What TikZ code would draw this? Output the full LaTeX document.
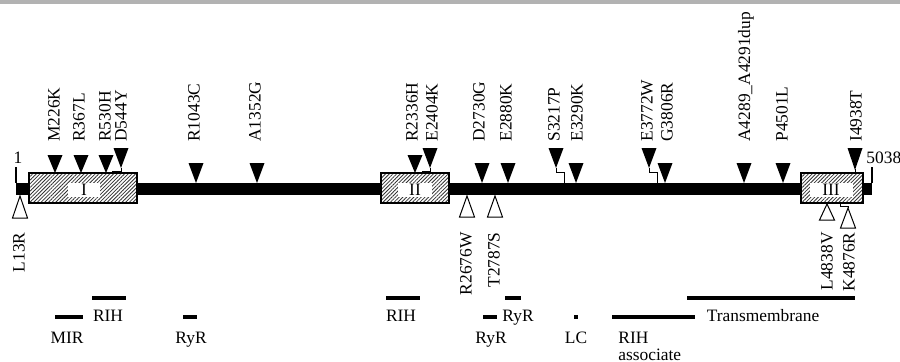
\documentclass[tikz,border=0pt]{standalone}
\usepackage{fontspec}
\setmainfont{Liberation Serif}
\usetikzlibrary{patterns.meta}
\newcommand\ftri[3]{\fill[black] (#1-7.5,#2) -- (#1+7.5,#2) -- (#1,#3) -- cycle;}
\newcommand\otri[3]{\filldraw[fill=white,draw=black,line width=0.5pt] (#1-7.5,#2) -- (#1+7.5,#2) -- (#1,#3) -- cycle;}
\begin{document}
\begin{tikzpicture}[x=0.5pt,y=-0.5pt,
  lbl/.style={font=\fontsize{8.7}{10}\selectfont, inner sep=0pt},
  uplbl/.style={lbl, rotate=90, anchor=west},
  dnlbl/.style={lbl, rotate=90, anchor=east},
  dombox/.style={draw=black, line width=0.8pt, pattern={Lines[angle=45,distance=1.3pt,line width=0.4pt]}, pattern color=black!80},
  conn/.style={draw=black, line width=0.5pt},
  seg/.style={line width=1.6pt},
]
\useasboundingbox (0,0) rectangle (900,361);
\fill[black!30] (0,0) rectangle (900,4);
% main bar
\fill[black] (16,183) rectangle (872,195);
\draw[line width=0.6pt] (16,167) -- (16,183);
\draw[line width=0.6pt] (872,167) -- (872,183);
\node[lbl] (one) at (18,158) {1};
\node[lbl,anchor=west] (end) at (866,158) {5038};
% domain boxes
\fill[white] (29,173) rectangle (137,203);
\path[dombox] (29,173) rectangle (137,203);
\fill[white] (68,183) rectangle (100,197);
\node[lbl] (dI) at (84,190) {I};
\fill[white] (381,173) rectangle (449,203);
\path[dombox] (381,173) rectangle (449,203);
\fill[white] (398,183) rectangle (432,197);
\node[lbl] (dII) at (415,190) {II};
\fill[white] (801,173) rectangle (863,203);
\path[dombox] (801,173) rectangle (863,203);
\fill[white] (810,183) rectangle (853,197);
\node[lbl] (dIII) at (831,190) {III};
% filled triangles
\ftri{55}{155}{173}
\ftri{81}{155}{173}
\ftri{106}{155}{173}
\ftri{121}{148}{168}
\draw[conn] (121,168) -- (121,171) -- (112,171) -- (112,173);
\ftri{196}{163}{183}
\ftri{257}{163}{183}
\ftri{415}{155}{173}
\ftri{430}{148}{168}
\draw[conn] (430,168) -- (430,171) -- (422,171) -- (422,173);
\ftri{482}{163}{183}
\ftri{508}{163}{183}
\ftri{556}{148}{168}
\draw[conn] (556,168) -- (556,172) -- (564,172) -- (564,183);
\ftri{576}{163}{183}
\ftri{649}{148}{168}
\draw[conn] (649,168) -- (649,172) -- (657,172) -- (657,183);
\ftri{665}{163}{183}
\ftri{744}{163}{183}
\ftri{783}{163}{183}
\ftri{855}{148}{170}
\draw[conn] (855,169) -- (855,173);
% open triangles
\otri{20}{218}{196}
\otri{467}{217}{196}
\otri{495}{217}{196}
\otri{827}{220}{204}
\draw[conn] (840,203) -- (840,206) -- (848,206) -- (848,208);
\otri{848}{228}{208}
% upper labels
\node[uplbl] (m1) at (54,142) {M226K};
\node[uplbl] (m2) at (79,142) {R367L};
\node[uplbl] (m3) at (105,142) {R530H};
\node[uplbl] (m4) at (121,142) {D544Y};
\node[uplbl] (m5) at (194,142) {R1043C};
\node[uplbl] (m6) at (255,142) {A1352G};
\node[uplbl] (m7) at (412,142) {R2336H};
\node[uplbl] (m8) at (432,142) {E2404K};
\node[uplbl] (m9) at (479,142) {D2730G};
\node[uplbl] (m10) at (506,142) {E2880K};
\node[uplbl] (m11) at (554,142) {S3217P};
\node[uplbl] (m12) at (577,142) {E3290K};
\node[uplbl] (m13) at (647,142) {E3772W};
\node[uplbl] (m14) at (667,142) {G3806R};
\node[uplbl] (m15) at (746,142) {A4289\_A4291dup};
\node[uplbl] (m16) at (782,142) {P4501L};
\node[uplbl] (m17) at (856,142) {I4938T};
% lower labels
\node[dnlbl] (n1) at (19,232) {L13R};
\node[dnlbl] (n2) at (466,232) {R2676W};
\node[dnlbl] (n3) at (494,232) {T2787S};
\node[dnlbl] (n4) at (827,232) {L4838V};
\node[dnlbl] (n5) at (849,232) {K4876R};
% domain segments
\draw[seg] (55,317) -- (83,317);
\draw[seg] (92,298) -- (126,298);
\draw[seg] (183,317) -- (197,317);
\draw[seg] (386,298) -- (420,298);
\draw[seg] (483,317) -- (497,317);
\draw[seg] (505,298) -- (521,298);
\fill[black] (574,315) rectangle (578,319);
\draw[seg] (612,317) -- (695,317);
\draw[seg] (687,298) -- (855,298);
\node[lbl,anchor=base] (t1) at (67,343) {MIR};
\node[lbl,anchor=base] (t2) at (108,321) {RIH};
\node[lbl,anchor=base] (t3) at (191,343) {RyR};
\node[lbl,anchor=base] (t4) at (401,321) {RIH};
\node[lbl,anchor=base] (t5) at (491,343) {RyR};
\node[lbl,anchor=base] (t6) at (518,321) {RyR};
\node[lbl,anchor=base] (t7) at (576,343) {LC};
\node[lbl,anchor=base west] (t8) at (618,343) {RIH};
\node[lbl,anchor=base west] (t9) at (618,360) {associate};
\node[lbl,anchor=base] (t10) at (763,321) {Transmembrane};
\end{tikzpicture}
\end{document}
